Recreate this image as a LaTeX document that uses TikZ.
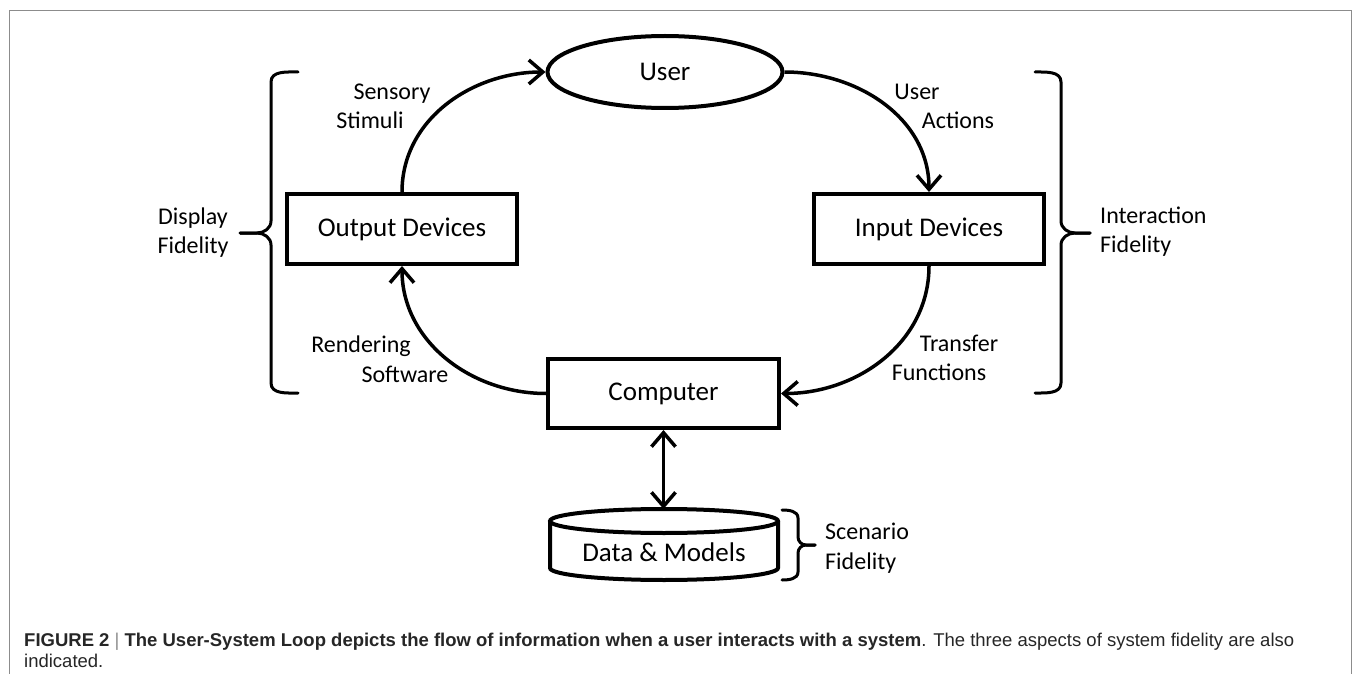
\documentclass[tikz,border=0pt]{standalone}
\usepackage{fontspec}
\setmainfont{Carlito}
\newfontfamily\capfont{Liberation Sans}
\usetikzlibrary{arrows.meta,shapes.geometric}
\begin{document}
\begin{tikzpicture}[x=1pt,y=1pt,
  box/.style={draw, line width=4pt, minimum width=230pt, minimum height=70pt, inner sep=0pt, font=\fontsize{27}{32}\selectfont},
  lbl/.style={font=\fontsize{24}{28}\selectfont, inner sep=0pt, anchor=base},
  lblw/.style={lbl, anchor=base west},
  tip/.style={Straight Barb[length=14pt,width=24pt]},
  flow/.style={line width=3.5pt, -{Straight Barb[length=14pt,width=24pt]}},
  twoway/.style={line width=3.5pt, {Straight Barb[length=14pt,width=24pt]}-{Straight Barb[length=14pt,width=24pt]}},
  brace/.style={line width=3pt, line join=round, line cap=round},
  capt/.style={font=\capfont\fontsize{18.5}{21}\selectfont, inner sep=0pt, anchor=base west, text=black!85}]
\useasboundingbox (0,0) rectangle (1358,-674);
\draw[black!45, line width=1pt] (9,-674) -- (9,-11) -- (1351,-11) -- (1351,-674);

% nodes
\node[draw, ellipse, line width=4pt, minimum width=235pt, minimum height=72pt, inner sep=0pt, font=\fontsize{27}{32}\selectfont] (user) at (665,-72) {User};
\node[box] (out) at (402,-229) {Output Devices};
\node[box] (in) at (929,-229) {Input Devices};
\node[box, minimum width=231pt, minimum height=69pt] (comp) at (663.5,-393.5) {Computer};

% data cylinder
\draw[line width=4pt] (664,-521) ellipse [x radius=114pt, y radius=12pt];
\draw[line width=4pt] (550,-521) -- (550,-568) arc[start angle=180, end angle=360, x radius=114pt, y radius=12pt] -- (778,-521);
\node[font=\fontsize{27}{32}\selectfont, inner sep=0pt] (data) at (664,-552) {Data \& Models};
\coordinate (dtop) at (663.5,-509);

% connectors
\draw[flow] (out.north) to[out=90,in=180] (user.west);
\draw[flow] (user.east) to[out=0,in=90] (in.north);
\draw[flow] (in.south) to[out=-90,in=0] (comp.east);
\draw[flow] (comp.west) to[out=180,in=-90] (out.south);
\draw[twoway] (comp.south) -- (dtop);

% brackets
\draw[brace] (298,-72) to[out=180,in=90] (271,-82) -- (271,-221) to[out=-90,in=0] (257,-233) -- (240,-233);
\draw[brace] (240,-233) -- (257,-233) to[out=0,in=90] (271,-245) -- (271,-383) to[out=-90,in=180] (298,-393);
\draw[brace] (1035,-72) to[out=0,in=90] (1061,-82) -- (1061,-221) to[out=-90,in=180] (1075,-233) -- (1090,-233);
\draw[brace] (1090,-233) -- (1075,-233) to[out=180,in=90] (1061,-245) -- (1061,-383) to[out=-90,in=0] (1035,-393);
\draw[brace] (782,-510) to[out=0,in=90] (798,-518) -- (798,-537) to[out=-90,in=180] (806,-545) -- (815,-545);
\draw[brace] (815,-545) -- (806,-545) to[out=180,in=90] (798,-553) -- (798,-572) to[out=-90,in=0] (782,-580);

% labels
\node[lbl] (l1a) at (392,-100) {Sensory};
\node[lbl] (l1b) at (370,-129) {Stimuli};
\node[lbl] (l2a) at (917,-100) {User};
\node[lbl] (l2b) at (958,-129) {Actions};
\node[lbl] (l3a) at (361,-352) {Rendering};
\node[lbl] (l3b) at (405,-382) {Software};
\node[lbl] (l4a) at (959,-351) {Transfer};
\node[lbl] (l4b) at (939,-380) {Functions};
\node[lbl] (f1a) at (193,-224) {Display};
\node[lbl] (f1b) at (193,-253) {Fidelity};
\node[lblw] (f2a) at (1100,-223) {Interaction};
\node[lblw] (f2b) at (1100,-252) {Fidelity};
\node[lblw] (f3a) at (825,-539) {Scenario};
\node[lblw] (f3b) at (825,-569) {Fidelity};

% caption
\node[capt] (cap1) at (24,-646) {\textbf{FIGURE 2} {\color{black!45}|} \textbf{The User-System Loop depicts the flow of information when a user interacts with a system}. The three aspects of system fidelity are also};
\node[capt] (cap2) at (24,-667) {indicated.};
\end{tikzpicture}
\end{document}
